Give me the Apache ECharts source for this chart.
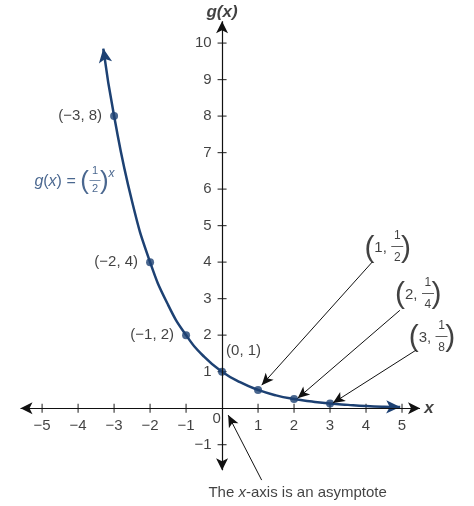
<!DOCTYPE html>
<html>
<head>
<meta charset="utf-8">
<script src="https://cdn.jsdelivr.net/npm/echarts@6/dist/echarts.min.js"></script>
<style>html,body{margin:0;padding:0;background:#fff}#c{width:474px;height:506px}</style>
</head>
<body>
<div id="c"></div>
<script>
// curve
const curveX = [-3.3, -3, -2.5, -2, -1.5, -1, -0.5, 0, 0.5, 1, 1.5, 2, 2.5, 3, 3.5, 4, 4.5, 4.95]
const curveY = [9.85, 8, 5.66, 4, 2.83, 2, 1.41, 1, 0.71, 0.5, 0.35, 0.25, 0.18, 0.125, 0.09, 0.06, 0.04, 0.03]
const pointX = [-3, -2, -1, 0, 1, 2, 3]
const pointY = [8, 4, 2, 1, 0.5, 0.25, 0.125]
const xTicks = [-5, -4, -3, -2, -1, 1, 2, 3, 4, 5]
const yTicks = [-1, 1, 2, 3, 4, 5, 6, 7, 8, 9, 10]

const blue = '#1d4173'
const font = 'Liberation Sans'

var myChart = echarts.init(document.getElementById('c'))

const curveData = curveX.map((x, i) => {
    const item = { value: [x, curveY[i]], symbol: 'none' }
    if (i === 0) { item.symbol = 'arrow'; item.symbolRotate = 9; item.symbolSize = [10, 14] }
    if (i === curveX.length - 1) { item.symbol = 'arrow'; item.symbolRotate = -91; item.symbolSize = [10, 14] }
    return item
})

const leftLab = (t) => ({ show: true, position: 'left', distance: 8, formatter: t, color: '#111', fontSize: 15, fontFamily: font })
const pointData = pointX.map((x, i) => ({ value: [x, pointY[i]] }))
pointData[0].label = leftLab('(−3, 8)')
pointData[1].label = leftLab('(−2, 4)')
pointData[2].label = leftLab('(−1, 2)')
pointData[3].label = { show: true, position: [8, -24], formatter: '(0, 1)', color: '#111', fontSize: 15, fontFamily: font }

const fracRich = {
    p: { fontSize: 30, color: '#111', fontFamily: font, fontWeight: 100 },
    t: { fontSize: 15, color: '#111', fontFamily: font, padding: [0, 14, 0, 0] },
    n: { fontSize: 12, color: '#111', fontFamily: font, lineHeight: 11 }
}
function fracLabel(x, y, whole, den) {
    return [
        { value: [x, y], label: { show: true, position: 'inside', formatter: '{p|(}{t|' + whole + ',}{p|)}', rich: fracRich } },
        { value: [x + 0.27, y + 0.03], label: { show: true, position: 'inside', formatter: '{n|1}\n{n|—}\n{n|' + den + '}', rich: fracRich, lineHeight: 10 } }
    ]
}

const arrowLine = (a, b) => [{ coord: a }, { coord: b }]

var option = {
    animation: false,
    grid: { left: 0, right: 0, top: 0, bottom: 0 },
    xAxis: { type: 'value', min: -6.17, max: 7, show: false },
    yAxis: { type: 'value', min: -2.68, max: 11.18, show: false },
    series: [
        {
            type: 'scatter', symbol: 'rect', symbolSize: [1.2, 9], silent: true,
            itemStyle: { color: '#111' },
            data: xTicks.map(v => [v, 0]),
            label: { show: true, position: 'bottom', distance: 6, formatter: p => String(p.value[0]).replace('-', '−'), color: '#111', fontSize: 15, fontFamily: font },
            markLine: {
                silent: true, symbol: ['arrow', 'arrow'], symbolSize: [9, 12], label: { show: false },
                lineStyle: { color: '#111', width: 1.2, type: 'solid' },
                data: [arrowLine([-5.6, 0], [5.5, 0]), arrowLine([0, -1.7], [0, 10.6])]
            }
        },
        {
            type: 'scatter', symbol: 'rect', symbolSize: [9, 1.2], silent: true,
            itemStyle: { color: '#111' },
            data: yTicks.map(v => [0, v]),
            label: { show: true, position: 'left', distance: 6, formatter: p => String(p.value[1]).replace('-', '−'), color: '#111', fontSize: 15, fontFamily: font },
            markLine: {
                silent: true, symbol: ['none', 'arrow'], symbolSize: [8, 12], label: { show: false },
                lineStyle: { color: '#111', width: 1, type: 'solid' },
                data: [
                    arrowLine([4.17, 4.0], [1.1, 0.63]),
                    arrowLine([4.94, 2.68], [2.1, 0.27]),
                    arrowLine([5.39, 1.59], [3.08, 0.14]),
                    arrowLine([1.1, -1.97], [0.17, -0.19])
                ]
            }
        },
        {
            type: 'line', smooth: true, data: curveData, silent: true,
            lineStyle: { color: blue, width: 2.5 }, itemStyle: { color: blue }
        },
        {
            type: 'scatter', symbolSize: 8, data: pointData, silent: true,
            itemStyle: { color: blue }
        },
        {
            type: 'scatter', symbolSize: 0, silent: true, clip: false,
            data: [
                { value: [-0.15, -0.3], label: { show: true, position: 'inside', formatter: '0', color: '#111', fontSize: 15, fontFamily: font } },
                { value: [0, 10.85], label: { show: true, position: 'inside', formatter: 'g(x)', color: '#111', fontSize: 17, fontWeight: 'bold', fontStyle: 'italic', fontFamily: font } },
                { value: [5.75, 0], label: { show: true, position: 'inside', formatter: 'x', color: '#111', fontSize: 17, fontWeight: 'bold', fontStyle: 'italic', fontFamily: font } },
                { value: [2.1, -2.33], label: { show: true, position: 'inside', formatter: '{t|The }{i|x}{t|-axis is an asymptote}', rich: { t: { fontSize: 15, color: '#111', fontFamily: font }, i: { fontSize: 15, color: '#111', fontFamily: font, fontStyle: 'italic' } } } },
                { value: [-4.1, 6.2], label: { show: true, position: 'inside', formatter: '{i|g}{t|(}{i|x}{t|) = }{p|(}{s|    }{p|)}{e|x}', rich: { i: { fontStyle: 'italic', fontSize: 16, color: blue, fontFamily: font }, e: { fontStyle: 'italic', fontSize: 12, color: blue, fontFamily: font, padding: [0, 0, 16, 0] }, t: { fontSize: 16, color: blue, fontFamily: font }, p: { fontSize: 26, color: blue, fontFamily: font, fontWeight: 100 }, s: { fontSize: 10 } } } },
                { value: [-3.53, 6.25], label: { show: true, position: 'inside', formatter: '{n|1}\n{n|—}\n{n|2}', rich: { n: { fontSize: 11, color: blue, fontFamily: font, lineHeight: 9 } } } },
                ...fracLabel(4.6, 4.38, '1', '2'),
                ...fracLabel(5.45, 3.1, '2', '4'),
                ...fracLabel(5.83, 1.92, '3', '8')
            ]
        }
    ]
}
myChart.setOption(option)
</script>
</body>
</html>
